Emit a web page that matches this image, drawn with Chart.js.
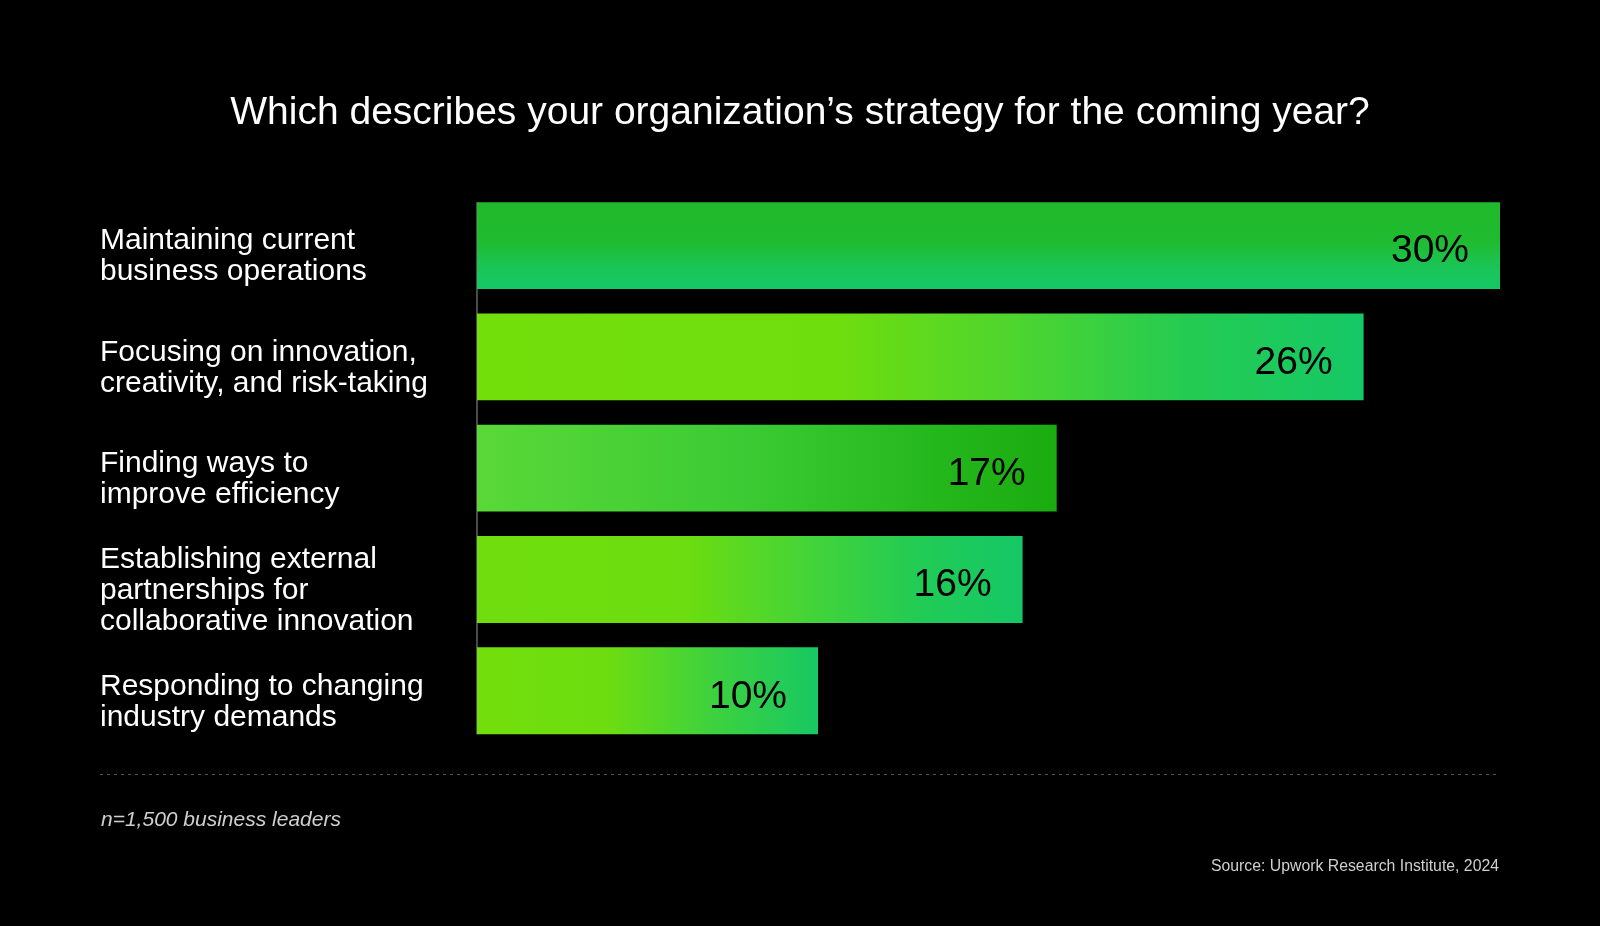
<!DOCTYPE html>
<html>
<head>
<meta charset="utf-8">
<script src="https://cdn.jsdelivr.net/npm/chart.js@4.4.1/dist/chart.umd.min.js"></script>
<style>
  html, body { margin: 0; padding: 0; background: #000; }
  #wrap { width: 1600px; height: 926px; }
</style>
</head>
<body>
<div id="wrap"><canvas id="c" width="1600" height="926"></canvas></div>
<script>
const title = 'Which describes your organization\u2019s strategy for the coming year?';
const categories = [
  ['Maintaining current', 'business operations'],
  ['Focusing on innovation,', 'creativity, and risk-taking'],
  ['Finding ways to', 'improve efficiency'],
  ['Establishing external', 'partnerships for', 'collaborative innovation'],
  ['Responding to changing', 'industry demands']
];
const values = [30, 26, 17, 16, 10];
const valueLabels = ['30%', '26%', '17%', '16%', '10%'];
const footnote = 'n=1,500 business leaders';
const source = 'Source: Upwork Research Institute, 2024';

const FONT = '"Liberation Sans", Arial, Helvetica, sans-serif';
const CAT_PCT = 0.78;

// gradient stops per bar (style only)
const barStops = [
  [[0, '#21b92c'], [0.45, '#20bb30'], [0.75, '#1ac556'], [1, '#15c866']],
  [[0, '#72df0b'], [0.4, '#6fde0d'], [0.6, '#4fd52e'], [0.8, '#24cb52'], [1, '#15c866']],
  [[0, '#5ad838'], [0.45, '#3ccb34'], [0.8, '#24b71c'], [1, '#1aab0f']],
  [[0, '#70de0d'], [0.38, '#6cdd10'], [0.62, '#42d33a'], [0.82, '#20cb56'], [1, '#15c866']],
  [[0, '#72df0b'], [0.38, '#6ddd10'], [0.68, '#3fd23d'], [1, '#18c862']]
];
const barVertical = [true, false, false, false, false];

function barBg(ctx) {
  const chart = ctx.chart;
  const xs = chart.scales.x, ys = chart.scales.y;
  if (!xs || !ys || ctx.dataIndex === undefined) return '#1cc450';
  const i = ctx.dataIndex;
  const x0 = xs.getPixelForValue(0);
  const x1 = xs.getPixelForValue(values[i]);
  const yc = ys.getPixelForValue(i);
  const half = ys.height / categories.length * CAT_PCT / 2;
  if (!isFinite(x0) || !isFinite(x1) || !isFinite(yc)) return '#1cc450';
  const g = barVertical[i]
    ? chart.ctx.createLinearGradient(x0, yc - half, x0, yc + half)
    : chart.ctx.createLinearGradient(x0, yc, x1, yc);
  barStops[i].forEach(s => g.addColorStop(s[0], s[1]));
  return g;
}

const axisLinePlugin = {
  id: 'axisLinePlugin',
  beforeDatasetsDraw(chart) {
    const meta = chart.getDatasetMeta(0);
    const first = meta.data[0], last = meta.data[meta.data.length - 1];
    const c = chart.ctx;
    const x = chart.chartArea.left;
    c.save();
    c.strokeStyle = '#4a4a4a';
    c.lineWidth = 2;
    c.beginPath();
    c.moveTo(x, first.y - first.height / 2);
    c.lineTo(x, last.y + last.height / 2);
    c.stroke();
    c.restore();
  }
};

const labelsPlugin = {
  id: 'labelsPlugin',
  afterDatasetsDraw(chart) {
    const c = chart.ctx;
    const ys = chart.scales.y;
    c.save();
    // category labels
    c.fillStyle = '#ffffff';
    c.font = '30px ' + FONT;
    c.textAlign = 'left';
    c.textBaseline = 'middle';
    const lh = 31;
    categories.forEach((lines, i) => {
      const yc = ys.getPixelForValue(i) + 11;
      const start = yc - (lines.length - 1) * lh / 2;
      lines.forEach((ln, j) => c.fillText(ln, 100, start + j * lh));
    });
    // value labels
    const meta = chart.getDatasetMeta(0);
    c.fillStyle = '#000000';
    c.font = '39px ' + FONT;
    c.textAlign = 'right';
    meta.data.forEach((bar, i) => {
      c.fillText(valueLabels[i], bar.x - 31, bar.y + 6);
    });
    // footer
    c.strokeStyle = '#555555';
    c.lineWidth = 1;
    c.setLineDash([3, 4]);
    c.beginPath();
    c.moveTo(100, 774.5);
    c.lineTo(1500, 774.5);
    c.stroke();
    c.setLineDash([]);
    c.fillStyle = '#cfcfcf';
    c.font = 'italic 21px ' + FONT;
    c.textAlign = 'left';
    c.fillText(footnote, 101, 820);
    c.font = '15.8px ' + FONT;
    c.textAlign = 'right';
    c.fillText(source, 1499, 867);
    c.restore();
  }
};

new Chart(document.getElementById('c'), {
  type: 'bar',
  data: {
    labels: categories,
    datasets: [{
      data: values,
      backgroundColor: barBg,
      borderWidth: 0,
      barPercentage: 1,
      categoryPercentage: CAT_PCT
    }]
  },
  options: {
    indexAxis: 'y',
    responsive: false,
    devicePixelRatio: 1,
    animation: false,
    layout: { padding: { left: 100, right: 100, top: 0, bottom: 179.6 } },
    plugins: {
      legend: { display: false },
      tooltip: { enabled: false },
      title: {
        display: true,
        text: title,
        color: '#ffffff',
        font: { family: FONT, size: 39, weight: 'normal', lineHeight: 1.2 },
        padding: { top: 89.6, bottom: 53.6 }
      }
    },
    scales: {
      x: { type: 'linear', min: 0, max: 30, display: false },
      y: {
        type: 'category',
        display: true,
        grid: { display: false, drawTicks: false },
        border: { display: false },
        ticks: { display: false },
        afterFit(scale) { scale.width = 377; }
      }
    }
  },
  plugins: [axisLinePlugin, labelsPlugin]
});
</script>
</body>
</html>
